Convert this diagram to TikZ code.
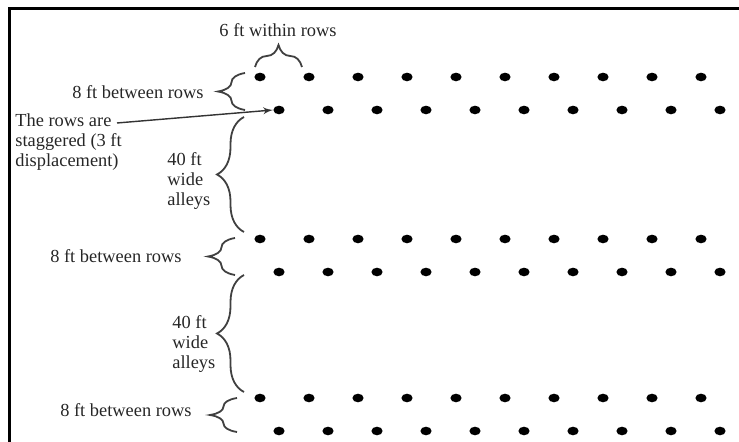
\documentclass[tikz,border=0pt]{standalone}
\usepackage{fontspec}
\setmainfont{Liberation Serif}
\usetikzlibrary{arrows,shapes,decorations.pathreplacing}
\tikzset{every picture/.style={/utils/exec={\fontsize{9.2}{10}\selectfont}}}
\tikzset{
    tree/.style={ellipse,fill=black,inner sep=0pt,minimum width=5.6pt,minimum height=4.3pt},
    curly/.style={decorate,decoration={brace,amplitude=#1},line width=0.9pt,black!75},
    curly/.default=13.5pt,
    note/.style={text=black!85,inner sep=0pt}
}

\begin{document}
\begin{tikzpicture}[x=0.5pt,y=-0.5pt]
    \useasboundingbox (0,0) rectangle (739,442);
    \draw [line width=1.5pt] (739,9) -- (9.5,9) -- (9.5,442);
    \foreach \r/\y in {1/77,2/239,3/398} {
        \foreach \i in {0,...,9} {
            \node [tree] (u\r-\i) at (260+49*\i,\y) {};
            \node [tree] (l\r-\i) at (279+49*\i,\y+33) {};
        }
    }
    \draw [curly=11pt] (255,67) -- (302,67);
    \draw [curly] (245,110) -- (245,73);
    \draw [curly] (244,232) -- (244,117);
    \draw [curly] (235,275) -- (235,238);
    \draw [curly] (244,392) -- (244,275);
    \draw [curly] (237,432) -- (237,398);
    \node [note,anchor=base] (within) at (278,37) {6 ft within rows};
    \node [note,anchor=base east] (between1) at (204,99) {8 ft between rows};
    \node [note,anchor=base east] (between2) at (182,263) {8 ft between rows};
    \node [note,anchor=base east] (between3) at (192,417) {8 ft between rows};
    \node [note,anchor=base west,align=left] (alley1) at (167,206) {40 ft\\wide\\alleys};
    \node [note,anchor=base west,align=left] (alley2) at (172,369) {40 ft\\wide\\alleys};
    \node [note,anchor=base west,align=left] (stagger) at (15,167) {The rows are\\staggered (3 ft\\displacement)};
    \coordinate (staggerend) at (117,123);
    \draw [-latex',line width=0.7pt,black!80] (staggerend) -- (l1-0.west);
\end{tikzpicture}
\end{document}
